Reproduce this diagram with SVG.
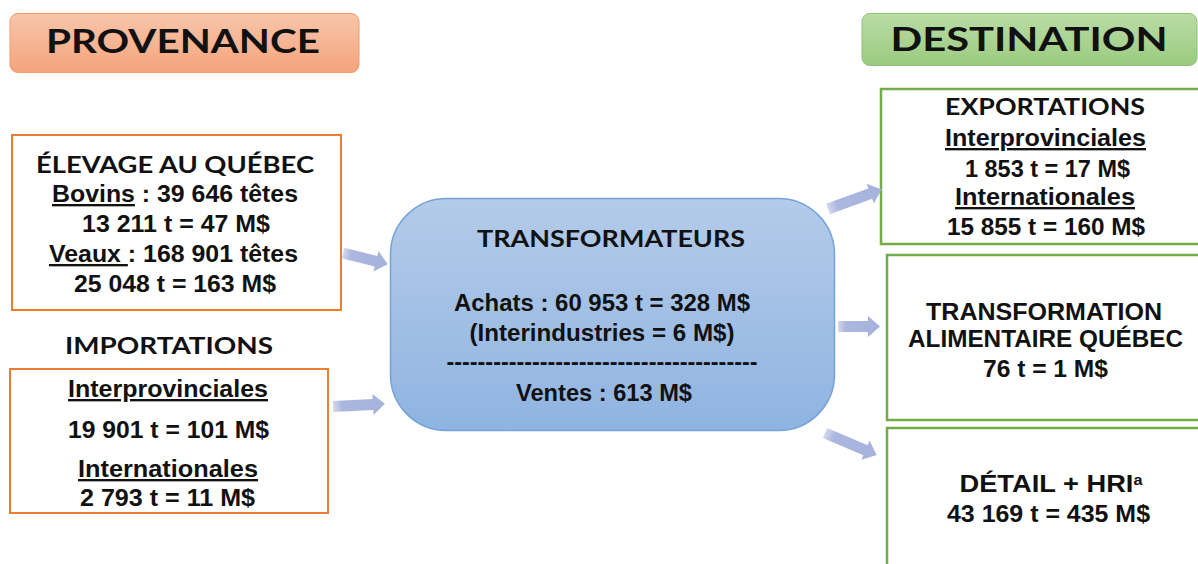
<svg xmlns="http://www.w3.org/2000/svg" width="1198" height="564" viewBox="0 0 1198 564">
  <defs>
    <linearGradient id="gOrange" x1="0" y1="0" x2="0" y2="1">
      <stop offset="0" stop-color="#f8c5aa"/>
      <stop offset="1" stop-color="#f4a47c"/>
    </linearGradient>
    <linearGradient id="gGreen" x1="0" y1="0" x2="0" y2="1">
      <stop offset="0" stop-color="#badca6"/>
      <stop offset="1" stop-color="#9bcb80"/>
    </linearGradient>
    <linearGradient id="gBlue" x1="0" y1="0" x2="0" y2="1">
      <stop offset="0" stop-color="#b4cbe9"/>
      <stop offset="1" stop-color="#8fb4e1"/>
    </linearGradient>
    <linearGradient id="gArrow" x1="0" y1="0" x2="1" y2="0">
      <stop offset="0" stop-color="#d3d9ef"/>
      <stop offset="0.18" stop-color="#abb7df"/>
      <stop offset="1" stop-color="#a5b2dc"/>
    </linearGradient>
  </defs>
  <style>
    .hdr { font-family: Lato, "Open Sans", "Liberation Sans", sans-serif; font-weight: bold; fill: #111; }
    .txt { font-family: "Liberation Sans", Arial, sans-serif; font-weight: bold; font-size: 23.5px; fill: #111; }
    .ob { fill: #fff; stroke: #ed7d31; stroke-width: 2; }
    .gb { fill: #fff; stroke: #70ad47; stroke-width: 2.5; }
    .arr { fill: url(#gArrow); }
    .u { text-decoration: underline; }
  </style>
  <rect width="1198" height="564" fill="#fff"/>

  <g id="provenance">
    <rect x="10" y="13.5" width="349" height="59" rx="8" fill="url(#gOrange)" stroke="#f29c6a" stroke-width="1"/>
    <text class="hdr" x="183" y="53" font-size="33" text-anchor="middle" textLength="274" lengthAdjust="spacingAndGlyphs">PROVENANCE</text>
  </g>

  <g id="destination">
    <rect x="862" y="13.5" width="335" height="52" rx="8" fill="url(#gGreen)" stroke="#8dc272" stroke-width="1"/>
    <text class="hdr" x="1029" y="51" font-size="33" text-anchor="middle" textLength="277" lengthAdjust="spacingAndGlyphs">DESTINATION</text>
  </g>

  <g id="elevage">
    <rect class="ob" x="12" y="135" width="329" height="175"/>
    <text class="hdr" x="175" y="173" font-size="23.5" text-anchor="middle" textLength="278" lengthAdjust="spacingAndGlyphs">ÉLEVAGE AU QUÉBEC</text>
    <text class="txt" x="175" y="202" text-anchor="middle" textLength="246" lengthAdjust="spacingAndGlyphs"><tspan class="u">Bovins</tspan> : 39 646 têtes</text>
    <text class="txt" x="176" y="232" text-anchor="middle" textLength="188" lengthAdjust="spacingAndGlyphs">13 211 t = 47 M$</text>
    <text class="txt" x="173.5" y="262" text-anchor="middle" textLength="249" lengthAdjust="spacingAndGlyphs"><tspan class="u">Veaux </tspan>: 168 901 têtes</text>
    <text class="txt" x="175" y="292" text-anchor="middle" textLength="202" lengthAdjust="spacingAndGlyphs">25 048 t = 163 M$</text>
  </g>

  <g id="importations">
    <text class="hdr" x="169" y="354" font-size="23.5" text-anchor="middle" textLength="208" lengthAdjust="spacingAndGlyphs">IMPORTATIONS</text>
    <rect class="ob" x="10" y="369" width="318" height="144"/>
    <text class="txt" x="168" y="397" text-anchor="middle" textLength="200" lengthAdjust="spacingAndGlyphs"><tspan class="u">Interprovinciales</tspan></text>
    <text class="txt" x="168.5" y="438" text-anchor="middle" textLength="201" lengthAdjust="spacingAndGlyphs">19 901 t = 101 M$</text>
    <text class="txt" x="168" y="477" text-anchor="middle" textLength="180" lengthAdjust="spacingAndGlyphs"><tspan class="u">Internationales</tspan></text>
    <text class="txt" x="167.5" y="506" text-anchor="middle" textLength="175" lengthAdjust="spacingAndGlyphs">2 793 t = 11 M$</text>
  </g>

  <g id="transformateurs">
    <rect x="390.5" y="198.5" width="444" height="232" rx="56" fill="url(#gBlue)" stroke="#74a3d9" stroke-width="1.5"/>
    <text class="hdr" x="611" y="247" font-size="23.5" text-anchor="middle" textLength="268" lengthAdjust="spacingAndGlyphs">TRANSFORMATEURS</text>
    <text class="txt" x="602" y="311" text-anchor="middle" textLength="296" lengthAdjust="spacingAndGlyphs">Achats : 60 953 t = 328 M$</text>
    <text class="txt" x="602" y="341" text-anchor="middle" textLength="265" lengthAdjust="spacingAndGlyphs">(Interindustries = 6 M$)</text>
    <text class="txt" x="602" y="370" text-anchor="middle" textLength="311" lengthAdjust="spacingAndGlyphs">----------------------------------------</text>
    <text class="txt" x="604" y="401" text-anchor="middle" textLength="176" lengthAdjust="spacingAndGlyphs">Ventes : 613 M$</text>
  </g>

  <g id="exportations">
    <rect class="gb" x="881" y="89" width="330" height="155"/>
    <text class="hdr" x="1045" y="115" font-size="23.5" text-anchor="middle" textLength="200" lengthAdjust="spacingAndGlyphs">EXPORTATIONS</text>
    <text class="txt" x="1045.5" y="146" text-anchor="middle" textLength="201" lengthAdjust="spacingAndGlyphs"><tspan class="u">Interprovinciales</tspan></text>
    <text class="txt" x="1047.5" y="177" text-anchor="middle" textLength="165" lengthAdjust="spacingAndGlyphs">1 853 t = 17 M$</text>
    <text class="txt" x="1045" y="205" text-anchor="middle" textLength="180" lengthAdjust="spacingAndGlyphs"><tspan class="u">Internationales</tspan></text>
    <text class="txt" x="1046" y="235" text-anchor="middle" textLength="198" lengthAdjust="spacingAndGlyphs">15 855 t = 160 M$</text>
  </g>

  <g id="transformation-alimentaire">
    <rect class="gb" x="887" y="255" width="330" height="165"/>
    <text class="txt" x="1044" y="320" text-anchor="middle" textLength="236" lengthAdjust="spacingAndGlyphs">TRANSFORMATION</text>
    <text class="txt" x="1045.5" y="347" text-anchor="middle" textLength="275" lengthAdjust="spacingAndGlyphs">ALIMENTAIRE QUÉBEC</text>
    <text class="txt" x="1045.5" y="377" text-anchor="middle" textLength="125" lengthAdjust="spacingAndGlyphs">76 t = 1 M$</text>
  </g>

  <g id="detail-hri">
    <rect class="gb" x="887" y="428" width="330" height="160"/>
    <text class="txt" x="1051" y="492" text-anchor="middle" textLength="183" lengthAdjust="spacingAndGlyphs">DÉTAIL + HRI<tspan font-size="14" dy="-7">a</tspan></text>
    <text class="txt" x="1048.5" y="522" text-anchor="middle" textLength="203" lengthAdjust="spacingAndGlyphs">43 169 t = 435 M$</text>
  </g>

  <g id="connectors">
    <path class="arr" transform="translate(343,253) rotate(14)" d="M0,-5.5 L34,-5.5 L34,-10.5 L46,0 L34,10.5 L34,5.5 L0,5.5 Z"/>
    <path class="arr" transform="translate(333,406.5) rotate(-3)" d="M0,-5.5 L40,-5.5 L40,-10.5 L52,0 L40,10.5 L40,5.5 L0,5.5 Z"/>
    <path class="arr" transform="translate(828,209) rotate(-20)" d="M0,-5.5 L45,-5.5 L45,-10.5 L57,0 L45,10.5 L45,5.5 L0,5.5 Z"/>
    <path class="arr" transform="translate(838,326.5)" d="M0,-5.5 L30,-5.5 L30,-10.5 L42,0 L30,10.5 L30,5.5 L0,5.5 Z"/>
    <path class="arr" transform="translate(825,433) rotate(23)" d="M0,-5.5 L44,-5.5 L44,-10.5 L56,0 L44,10.5 L44,5.5 L0,5.5 Z"/>
  </g>
</svg>
